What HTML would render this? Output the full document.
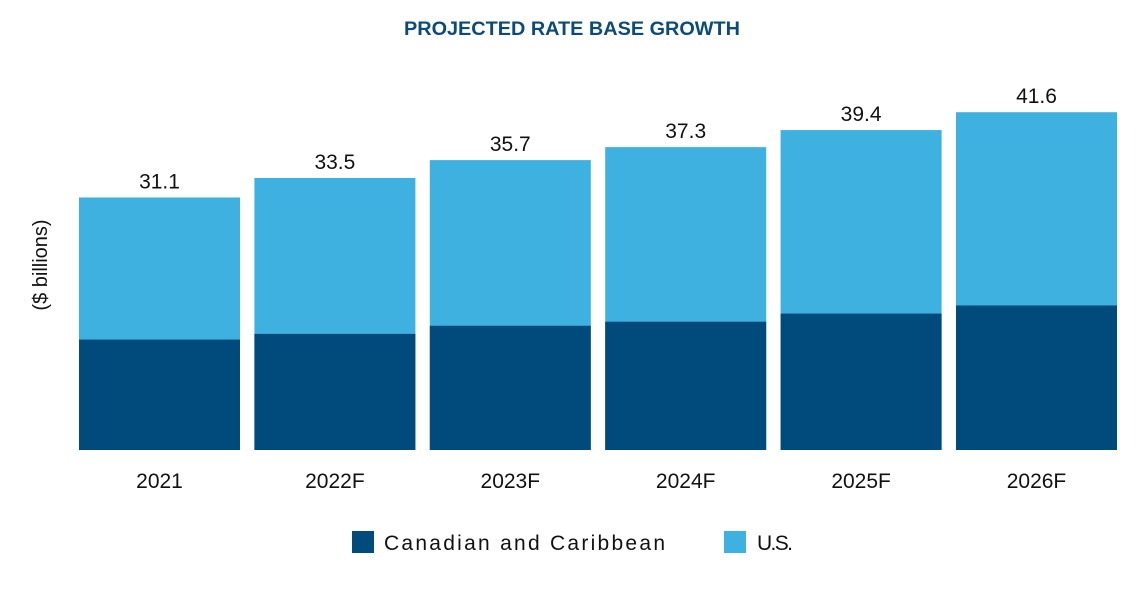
<!DOCTYPE html>
<html><head><meta charset="utf-8"><style>
body{margin:0;background:#fff;font-family:"Liberation Sans",sans-serif}
svg text{font-family:"Liberation Sans",sans-serif}
</style></head><body>
<svg width="1144" height="584">
<text x="404" y="35" textLength="336" lengthAdjust="spacingAndGlyphs" font-size="19" font-weight="bold" fill="#0c4a79">PROJECTED RATE BASE GROWTH</text>
<text transform="translate(47,265) rotate(-90)" text-anchor="middle" font-size="20" fill="#111">($ billions)</text>
<g id="bars"></g>
<rect x="352" y="531" width="22" height="22" fill="#004a7c"/>
<text x="384" y="550" font-size="21" textLength="281" lengthAdjust="spacing" fill="#111">Canadian and Caribbean</text>
<rect x="724" y="531" width="22" height="22" fill="#3eb1e0"/>
<text x="757" y="550" font-size="21" textLength="36" lengthAdjust="spacing" fill="#111">U.S.</text>
</svg>
<script>
const categories=["2021","2022F","2023F","2024F","2025F","2026F"];
const canadian=[13.6,14.3,15.3,15.8,16.8,17.8];
const totals=[31.1,33.5,35.7,37.3,39.4,41.6];
const NS="http://www.w3.org/2000/svg";
const base=450, scale=8.12, x0=79, pitch=175.4, bw=161;
const y=v=>base-v*scale;
const g=document.getElementById('bars');
function mk(t,a){const e=document.createElementNS(NS,t);for(const k in a)e.setAttribute(k,a[k]);g.appendChild(e);return e;}
categories.forEach((c,i)=>{
  const x=x0+i*pitch;
  const u=mk('rect',{x:x,y:y(totals[i]),width:bw,height:base-y(totals[i]),fill:'#3eb1e0'});
  
  
  const d=mk('rect',{x:x,y:y(canadian[i]),width:bw,height:base-y(canadian[i]),fill:'#004a7c'});
  
  
  const t=mk('text',{x:x+bw/2,y:y(totals[i])-9,'text-anchor':'middle','font-size':21,fill:'#111'});
  t.textContent=totals[i].toFixed(1);
  
  
  const l=mk('text',{x:x+bw/2,y:488,'text-anchor':'middle','font-size':21,fill:'#111'});
  l.textContent=c;
  
  
});
</script>
</body></html>
